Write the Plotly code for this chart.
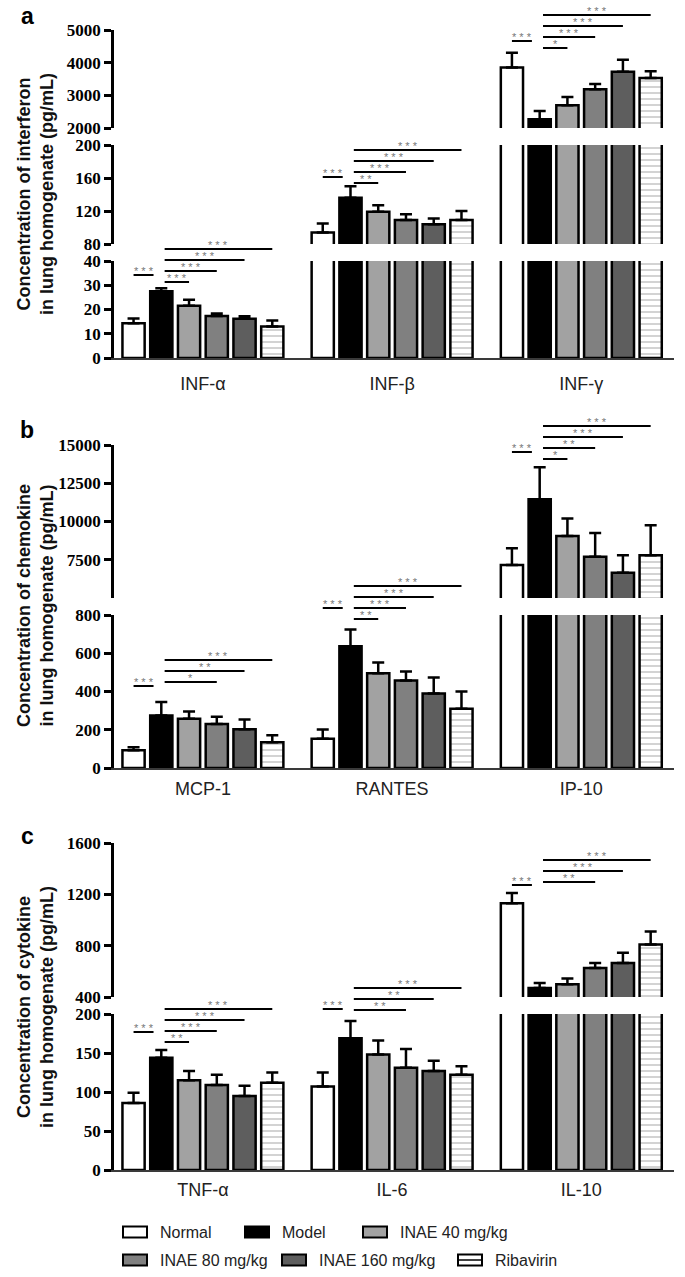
import plotly.graph_objects as go

# figure size in px; every layout position below is given in px and converted
W, H = 685, 1277

GROUPS = ["Normal", "Model", "INAE 40 mg/kg", "INAE 80 mg/kg", "INAE 160 mg/kg", "Ribavirin"]
FILLS = ["#ffffff", "#000000", "#a2a2a2", "#808080", "#5e5e5e", "#ffffff"]

# ---- panel a: interferons (rows follow GROUPS, columns follow categories)
ifn_cats = ["INF-α", "INF-β", "INF-γ"]
ifn_mean = [
    [14.3, 94, 3850],
    [27.5, 136, 2270],
    [21.5, 119, 2700],
    [17.3, 109, 3190],
    [16.2, 104, 3720],
    [13.0, 109, 3530],
]
ifn_err = [
    [2.0, 11, 450],
    [1.3, 14, 250],
    [2.5, 8, 250],
    [1.0, 7, 160],
    [1.0, 7, 370],
    [2.5, 11, 210],
]
# (category, bar i, bar j, stars)
ifn_sig = [
    (0, 0, 1, "***"), (0, 1, 2, "***"), (0, 1, 3, "***"), (0, 1, 4, "***"), (0, 1, 5, "***"),
    (1, 0, 1, "***"), (1, 1, 2, "**"), (1, 1, 3, "***"), (1, 1, 4, "***"), (1, 1, 5, "***"),
    (2, 0, 1, "***"), (2, 1, 2, "*"), (2, 1, 3, "***"), (2, 1, 4, "***"), (2, 1, 5, "***"),
]

# ---- panel b: chemokines
chemo_cats = ["MCP-1", "RANTES", "IP-10"]
chemo_mean = [
    [93, 153, 7150],
    [275, 636, 11450],
    [258, 495, 9050],
    [230, 458, 7700],
    [203, 390, 6650],
    [135, 310, 7800],
]
chemo_err = [
    [15, 48, 1100],
    [70, 88, 2100],
    [38, 57, 1150],
    [38, 47, 1550],
    [50, 83, 1150],
    [36, 90, 1950],
]
chemo_sig = [
    (0, 0, 1, "***"), (0, 1, 3, "*"), (0, 1, 4, "**"), (0, 1, 5, "***"),
    (1, 0, 1, "***"), (1, 1, 2, "**"), (1, 1, 3, "***"), (1, 1, 4, "***"), (1, 1, 5, "***"),
    (2, 0, 1, "***"), (2, 1, 2, "*"), (2, 1, 3, "**"), (2, 1, 4, "***"), (2, 1, 5, "***"),
]

# ---- panel c: cytokines
cyto_cats = ["TNF-α", "IL-6", "IL-10"]
cyto_mean = [
    [86, 107, 1130],
    [144, 169, 470],
    [115, 148, 500],
    [109, 131, 625],
    [95, 127, 665],
    [112, 122, 810],
]
cyto_err = [
    [13, 18, 80],
    [10, 22, 40],
    [12, 18, 45],
    [13, 24, 40],
    [13, 13, 80],
    [13, 11, 100],
]
cyto_sig = [
    (0, 0, 1, "***"), (0, 1, 2, "**"), (0, 1, 3, "***"), (0, 1, 4, "***"), (0, 1, 5, "***"),
    (1, 0, 1, "***"), (1, 1, 3, "**"), (1, 1, 4, "**"), (1, 1, 5, "***"),
    (2, 0, 1, "***"), (2, 1, 3, "**"), (2, 1, 4, "***"), (2, 1, 5, "***"),
]

# ---- layout of the three panels (px). segs: (top, bottom, range, tickvals), bottom segment first
PANELS = [
    dict(letter="a", letter_y=16, title_y=194, standoff=8,
         title="Concentration of interferon<br>in lung homogenate (pg/mL)",
         cats=ifn_cats, mean=ifn_mean, err=ifn_err, sig=ifn_sig,
         segs=[(261, 358, [0, 40], [0, 10, 20, 30, 40]),
               (145, 244, [80, 200], [80, 120, 160, 200]),
               (30, 128, [2000, 5000], [2000, 3000, 4000, 5000])],
         sig_y=[(275, 282), (177, 183), (41, 48)]),
    dict(letter="b", letter_y=430, title_y=606, standoff=3,
         title="Concentration of chemokine<br>in lung homogenate (pg/mL)",
         cats=chemo_cats, mean=chemo_mean, err=chemo_err, sig=chemo_sig,
         segs=[(615, 768, [0, 800], [0, 200, 400, 600, 800]),
               (445, 598, [5000, 15000], [7500, 10000, 12500, 15000])],
         sig_y=[(686, 682), (608, 619), (452, 459)]),
    dict(letter="c", letter_y=836, title_y=1007, standoff=2,
         title="Concentration of cytokine<br>in lung homogenate (pg/mL)",
         cats=cyto_cats, mean=cyto_mean, err=cyto_err, sig=cyto_sig,
         segs=[(1014, 1170, [0, 200], [0, 50, 100, 150, 200]),
               (843, 997, [400, 1600], [400, 800, 1200, 1600])],
         sig_y=[(1032, 1042), (1009, 1010), (885, 882)]),
]
X_LEFT, X_RIGHT = 114, 674
BARGAP, GROUPGAP = 0.12, 0.2
SLOT = (1 - BARGAP) / len(GROUPS)
SIG_STEP = 11

LEGEND_SLOTS = [(123, 1232), (245, 1232), (363, 1232), (123, 1260), (282, 1260), (458, 1260)]

SANS = "Liberation Sans"
SERIF = "Liberation Serif"


def py(p):
    return 1 - p / H


def px(p):
    return p / W


def bar_center(cat, i):
    return cat + (i - (len(GROUPS) - 1) / 2) * SLOT


fig = go.Figure()
shapes, annotations = [], []
ycount = 0

for p, P in enumerate(PANELS):
    xid = "x" if p == 0 else f"x{p + 1}"
    xkey = "xaxis" if p == 0 else f"xaxis{p + 1}"
    first_y = None

    for s, (top, bot, rng, tvals) in enumerate(P["segs"]):
        ycount += 1
        yid = "y" if ycount == 1 else f"y{ycount}"
        ykey = "yaxis" if ycount == 1 else f"yaxis{ycount}"
        if s == 0:
            first_y = yid
        fig.update_layout({ykey: dict(
            domain=[py(bot), py(top)], range=rng, tickvals=tvals,
            ticktext=[f"<b>{v}</b>" for v in tvals], automargin=False,
            anchor=xid, showline=True, linecolor="black", linewidth=2.5,
            ticks="outside", ticklen=7, tickwidth=2.5, tickcolor="black",
            showgrid=False, zeroline=False,
            tickfont=dict(family=SERIF, size=17, color="black"),
        )})
        for g, name in enumerate(GROUPS):
            marker = dict(color=FILLS[g], line=dict(color="black", width=2.5))
            if name == "Ribavirin":
                marker["pattern"] = dict(shape="-", fgcolor="#8a8a8a", bgcolor="white",
                                         size=6, solidity=0.25)
            fig.add_trace(go.Bar(
                x=P["cats"], y=P["mean"][g], name=name, xaxis=xid, yaxis=yid,
                showlegend=False, marker=marker,
                error_y=dict(type="data", symmetric=False, array=P["err"][g],
                             arrayminus=[0] * len(P["cats"]), color="black",
                             thickness=2.5, width=6),
            ))

    fig.update_layout({xkey: dict(
        domain=[px(X_LEFT), px(X_RIGHT)], anchor=first_y, type="category",
        categoryorder="array", categoryarray=P["cats"], range=[-0.47, 2.49],
        showline=True, linecolor="#3a3a3a", linewidth=2, ticks="", showgrid=False,
        ticklabelstandoff=P["standoff"], automargin=False,
        tickfont=dict(family=SANS, size=18, color="#222"),
    )})

    # significance brackets
    level = {}
    for cat, i, j, stars in P["sig"]:
        nm_y, base_y = P["sig_y"][cat]
        if i == 0:
            y_px = nm_y
            x0, x1 = bar_center(cat, 0), bar_center(cat, 1) - 0.28 * SLOT
        else:
            k = level.get(cat, 0)
            level[cat] = k + 1
            y_px = base_y - k * SIG_STEP
            x0, x1 = bar_center(cat, i) + 0.12 * SLOT, bar_center(cat, j)
        shapes.append(dict(type="line", xref=xid, yref="paper", x0=x0, x1=x1,
                           y0=py(y_px), y1=py(y_px), line=dict(color="black", width=2)))
        annotations.append(dict(xref=xid, yref="paper", x=(x0 + x1) / 2, y=py(y_px - 4),
                                text=" ".join(stars), showarrow=False,
                                xanchor="center", yanchor="middle", borderpad=0,
                                font=dict(family=SANS, size=11, color="#777")))

    annotations.append(dict(xref="paper", yref="paper", x=px(27), y=py(P["letter_y"]),
                            text="<b>" + P["letter"] + "</b>", showarrow=False,
                            xanchor="center", yanchor="middle",
                            font=dict(family=SANS, size=23, color="black")))
    annotations.append(dict(xref="paper", yref="paper", x=px(36), y=py(P["title_y"]),
                            text="<b>" + P["title"] + "</b>", showarrow=False, textangle=-90,
                            xanchor="center", yanchor="middle",
                            font=dict(family=SANS, size=18, color="#111")))

# legend drawn by hand to keep the two-row layout of the original
for g, (sx, cy) in enumerate(LEGEND_SLOTS):
    shapes.append(dict(type="rect", xref="paper", yref="paper", x0=px(sx), x1=px(sx + 24),
                       y0=py(cy + 5.5), y1=py(cy - 5.5), fillcolor=FILLS[g],
                       line=dict(color="black", width=2)))
    if GROUPS[g] == "Ribavirin":
        shapes.append(dict(type="line", xref="paper", yref="paper", x0=px(sx), x1=px(sx + 24),
                           y0=py(cy), y1=py(cy), line=dict(color="black", width=1.5)))
    annotations.append(dict(xref="paper", yref="paper", x=px(sx + 35), y=py(cy),
                            xanchor="left", yanchor="middle", text=GROUPS[g], showarrow=False,
                            font=dict(family=SANS, size=16, color="#222")))

fig.update_layout(
    width=W, height=H, margin=dict(l=0, r=0, t=0, b=0, autoexpand=False),
    barmode="group", bargap=BARGAP, bargroupgap=GROUPGAP,
    paper_bgcolor="white", plot_bgcolor="white", showlegend=False,
    shapes=shapes, annotations=annotations,
)

# drop the default page margin so the figure sits at the window's top-left corner
fig.write_html("out.html", config={"displayModeBar": False},
               post_script="document.body.style.margin = '0px';")
